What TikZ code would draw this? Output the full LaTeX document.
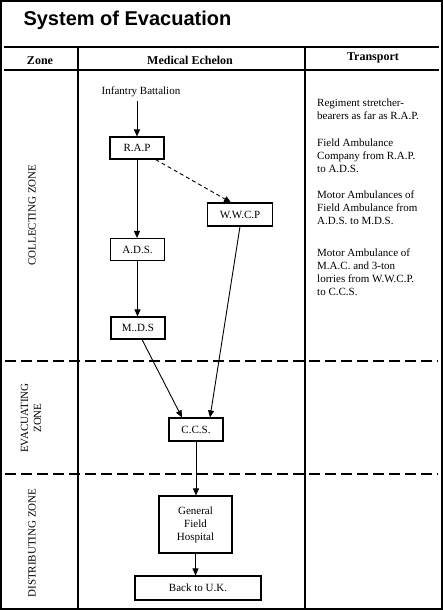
\documentclass[tikz,border=0pt]{standalone}
\usepackage{fontspec}
\setmainfont{Liberation Serif}
\newfontfamily\titlefont{Liberation Sans}
\usetikzlibrary{arrows.meta}

\begin{document}
\begin{tikzpicture}[
x=1pt, y=-1pt,
every node/.style={font=\fontsize{11}{13}\selectfont},
box/.style={draw, line width=1.1pt, minimum width=54pt, minimum height=22pt, inner sep=2pt},
link/.style={-{Triangle[length=7pt,width=6pt]}, line width=0.9pt},
zone/.style={rotate=90, align=center},
head/.style={font=\bfseries\fontsize{12}{14}\selectfont},
transport/.style={anchor=north west, align=left, inner sep=0pt, font=\fontsize{11}{12.8}\selectfont},
rule/.style={line width=1.1pt},
divide/.style={line width=1.1pt, dash pattern=on 11pt off 5pt},
]
\useasboundingbox (0,0) rectangle (443,610);
\draw[line width=1.6pt] (1,1) rectangle (442,609);
% заголовок
\node[anchor=base west, font=\titlefont\bfseries\fontsize{20}{24}\selectfont] (title) at (20,26) {System of Evacuation};
% таблица
\draw[rule] (4,47) -- (439,47) (4,70) -- (439,70);
\draw[rule] (78,47) -- (78,608) (305,47) -- (305,608);
\draw[divide] (5,361) -- (438,361) (5,474) -- (438,474);
\node[head] (zonehead) at (40,61) {Zone};
\node[head] (echelonhead) at (190,60) {Medical Echelon};
\node[head] (transporthead) at (373,58) {Transport};
% зоны
\node[zone] (collecting) at (32,215) {COLLECTING ZONE};
\node[zone] (evacuating) at (31,418) {EVACUATING\\ZONE};
\node[zone] (distributing) at (32,543) {DISTRIBUTING ZONE};
% эшелоны
\node (infantry) at (141,92) {Infantry Battalion};
\node[box] (rap) at (137,148) {R.A.P};
\node[box, minimum width=65pt, minimum height=23pt] (wwcp) at (240,214.5) {W.W.C.P};
\node[box] (ads) at (137.5,249.5) {A.D.S.};
\node[box] (mds) at (138,328) {M..D.S};
\node[box, minimum height=23pt] (ccs) at (196,429.5) {C.C.S.};
\node[box, minimum width=73pt, minimum height=57pt, align=center] (hospital) at (195.5,524.5) {General\\Field\\Hospital};
\node[box, minimum width=126pt, minimum height=24pt] (uk) at (198,588) {Back to U.K.};
\draw[link] (rap.north |- infantry.south) -- (rap.north);
\draw[link] (rap.south) -- (rap.south |- ads.north);
\draw[link, dash pattern=on 4pt off 3pt] ([xshift=-9pt]rap.south east) -- ([xshift=-9pt]wwcp.north);
\draw[link] (ads.south) -- (ads.south |- mds.north);
\draw[link] ([xshift=4pt]mds.south) -- ([xshift=-14pt]ccs.north);
\draw[link] (wwcp.south) -- ([xshift=14pt]ccs.north);
\draw[link] (ccs.south) -- (ccs.south |- hospital.north);
\draw[link] (hospital.south) -- (hospital.south |- uk.north);
% транспорт
\node[transport] (stretcher) at (317,99) {Regiment stretcher-\\bearers as far as R.A.P.};
\node[transport] (company) at (317,139) {Field Ambulance\\Company from R.A.P.\\to A.D.S.};
\node[transport] (motor) at (317,191) {Motor Ambulances of\\Field Ambulance from\\A.D.S. to M.D.S.};
\node[transport] (lorries) at (317,249) {Motor Ambulance of\\M.A.C. and 3-ton\\lorries from W.W.C.P.\\to C.C.S.};
\end{tikzpicture}
\end{document}
